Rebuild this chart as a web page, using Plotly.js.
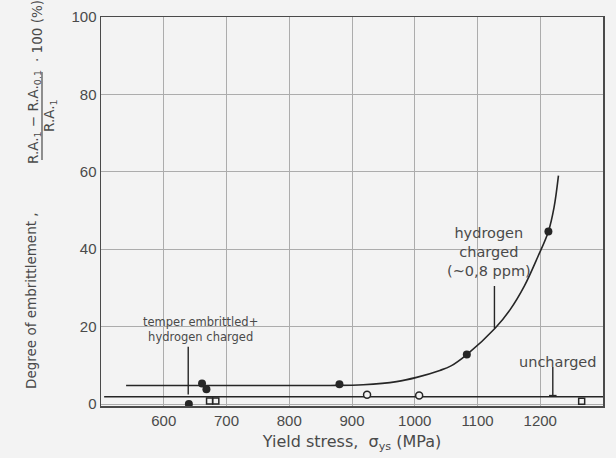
<!DOCTYPE html>
<html>
<head>
<meta charset="utf-8">
<script src="https://cdn.plot.ly/plotly-3.0.1.min.js"></script>
<style>
html,body{margin:0;padding:0;background:#f3f3f3;}
#chart{width:616px;height:458px;}
</style>
</head>
<body>
<div id="chart"></div>
<script>
// ---- data ----
const xTickVals = [600, 700, 800, 900, 1000, 1100, 1200, 1300];
const yTickVals = [0, 20, 40, 60, 80, 100];

// hydrogen charged (~0,8 ppm) fitted curve
const hydrogenCurveX = [540, 700, 865, 918, 971, 1003, 1040, 1057, 1083, 1128, 1152, 1175, 1196, 1213, 1222, 1229];
const hydrogenCurveY = [4.8, 4.8, 4.8, 5.0, 5.8, 6.9, 8.7, 9.8, 12.8, 19.6, 24.4, 30.6, 38.0, 44.6, 50.8, 59];

// hydrogen charged measured points (filled circles)
const hydrogenPointsX = [661, 668, 880, 1083, 1213];
const hydrogenPointsY = [5.3, 3.8, 5.1, 12.8, 44.6];

// temper embrittled + hydrogen charged
const temperPointsX = [640];
const temperPointsY = [0];

// uncharged level line
const unchargedLineX = [505, 1300];
const unchargedLineY = [1.9, 1.9];

// uncharged points
const unchargedCirclesX = [924, 1007];
const unchargedCirclesY = [2.4, 2.2];
const unchargedSquaresX = [673, 683, 1266];
const unchargedSquaresY = [0.8, 0.8, 0.7];

// annotation labels and their leader lines (data units)
const labelTexts = ['temper embrittled+<br>hydrogen charged', 'hydrogen<br>charged<br>(~0,8 ppm)', 'uncharged'];
const labelX = [658, 1118, 1227];
const labelY = [19.3, 39.3, 10.9];
const leaderX = [639, 1127, 1220];
const leaderTop = [14.8, 30.5, 9.6];
const leaderBottom = [2.5, 19.6, 1.9];

// ---- styles ----
const ink = '#262626';
const textCol = '#4a4a4a';
const bg = '#f3f3f3';

const traces = [
  {x: unchargedLineX, y: unchargedLineY, mode: 'lines', line: {color: ink, width: 1.5}, hoverinfo: 'skip'},
  {x: hydrogenCurveX, y: hydrogenCurveY, mode: 'lines', line: {color: ink, width: 1.6, shape: 'spline', smoothing: 1}, hoverinfo: 'skip'},
  {x: hydrogenPointsX, y: hydrogenPointsY, mode: 'markers', marker: {symbol: 'circle', size: 8, color: ink}, cliponaxis: false},
  {x: temperPointsX, y: temperPointsY, mode: 'markers', marker: {symbol: 'circle', size: 8, color: ink}, cliponaxis: false},
  {x: unchargedCirclesX, y: unchargedCirclesY, mode: 'markers', marker: {symbol: 'circle', size: 7, color: bg, line: {color: ink, width: 1.5}}, cliponaxis: false},
  {x: unchargedSquaresX, y: unchargedSquaresY, mode: 'markers', marker: {symbol: 'square', size: 6, color: bg, line: {color: ink, width: 1.5}}, cliponaxis: false}
];

const shapes = leaderX.map((lx, i) => ({
  type: 'line', xref: 'x', yref: 'y', x0: lx, x1: lx, y0: leaderTop[i], y1: leaderBottom[i],
  line: {color: ink, width: 1.4}
}));
// small foot of the "uncharged" pointer
shapes.push({type: 'line', xref: 'x', yref: 'y', x0: leaderX[2] - 6, x1: leaderX[2] + 6, y0: leaderBottom[2] + 0.3, y1: leaderBottom[2] + 0.3, line: {color: ink, width: 1.4}});

// fraction bar of the y title (paper units)
const px = v => (v - 101) / 502;
const py = v => (406 - v) / 389;
shapes.push({type: 'line', xref: 'paper', yref: 'paper', x0: px(42), x1: px(42), y0: py(160), y1: py(72), line: {color: textCol, width: 1.2}});

const labelSizes = [11.5, 14.5, 14.5];
const annotations = labelTexts.map((t, i) => ({
  text: t, x: labelX[i], y: labelY[i], xref: 'x', yref: 'y', showarrow: false,
  xanchor: 'center', yanchor: 'middle',
  font: {family: 'DejaVu Sans', size: labelSizes[i], color: textCol}, align: 'center'
}));

// rotated y-axis title pieces
const yTitleFont = {family: 'DejaVu Sans', size: 13.5, color: textCol};
const rot = (text, x, y) => ({text: text, xref: 'paper', yref: 'paper', x: px(x), y: py(y),
  xanchor: 'center', yanchor: 'middle', textangle: -90, showarrow: false, font: yTitleFont});
annotations.push(
  rot('Degree of embrittlement ,', 31, 301),
  rot('R.A.<sub>1</sub> − R.A.<sub>0.1</sub>', 34, 117),
  rot('R.A.<sub>1</sub>', 50, 116),
  rot('· 100 (%)', 37, 31)
);

const layout = {
  width: 616, height: 458,
  margin: {l: 101, r: 13, t: 17, b: 52},
  paper_bgcolor: bg, plot_bgcolor: bg,
  showlegend: false,
  xaxis: {
    range: [500, 1300], tickvals: xTickVals, ticktext: xTickVals.map(String),
    showgrid: true, gridcolor: '#acacac', gridwidth: 1,
    showline: true, mirror: true, linecolor: '#4a4a4a', linewidth: 1.5,
    ticks: '', zeroline: false,
    tickfont: {family: 'Liberation Sans', size: 15, color: textCol},
    title: {text: 'Yield stress,  σ<sub>ys</sub> (MPa)', font: {family: 'DejaVu Sans', size: 16, color: textCol}, standoff: 8}
  },
  yaxis: {
    range: [-0.5, 100], tickvals: yTickVals, ticktext: yTickVals.map(String),
    showgrid: true, gridcolor: '#acacac', gridwidth: 1,
    showline: true, mirror: true, linecolor: '#4a4a4a', linewidth: 1.5,
    ticks: '', zeroline: false,
    tickfont: {family: 'Liberation Sans', size: 15, color: textCol}
  },
  shapes: shapes,
  annotations: annotations
};

Plotly.newPlot('chart', traces, layout, {displayModeBar: false, staticPlot: true});
</script>
</body>
</html>
